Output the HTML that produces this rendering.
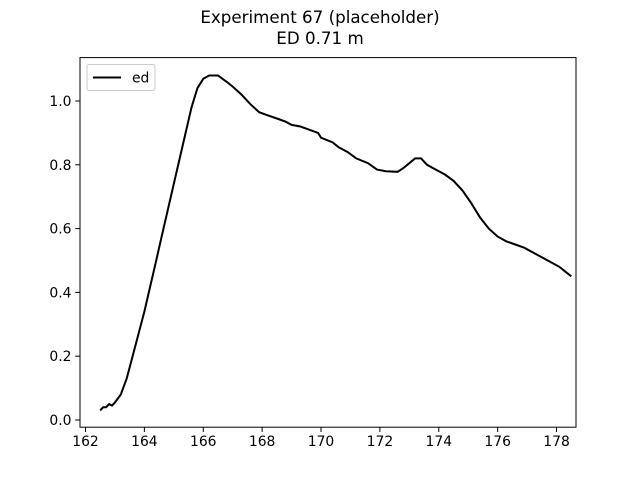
<!DOCTYPE html>
<html><head><meta charset="utf-8"><style>body{margin:0;background:#fff}svg{font-family:"DejaVu Sans","Liberation Sans",sans-serif}</style></head>
<body>
<svg id="chart" width="640" height="480" xmlns="http://www.w3.org/2000/svg">
<rect width="640" height="480" fill="#fff"/>
<text x="320" y="23" font-size="16.7" text-anchor="middle">Experiment 67 (placeholder)</text>
<text x="320" y="44" font-size="16.7" text-anchor="middle">ED 0.71 m</text>
<g id="ticks"></g>
<path id="line" fill="none" stroke="#000" stroke-width="2"/>
<rect x="80" y="57.6" width="496" height="369.6" fill="none" stroke="#000" stroke-width="1"/>
<g>
<rect x="87" y="64.5" width="68" height="26" rx="2" fill="#fff" stroke="#ccc"/>
<line x1="93" y1="77.5" x2="121" y2="77.5" stroke="#000" stroke-width="2"/>
<text x="132" y="82.5" font-size="13.9">ed</text>
</g>
</svg>
<script>
const xs=[162.5,162.6,162.7,162.8,162.9,163.0,163.2,163.4,163.6,163.8,164.0,164.2,164.4,164.6,164.8,165.0,165.2,165.4,165.6,165.8,166.0,166.2,166.5,166.8,167.0,167.3,167.6,167.9,168.2,168.5,168.8,169.0,169.3,169.6,169.9,170.0,170.4,170.6,170.9,171.2,171.6,171.9,172.2,172.6,172.8,173.0,173.2,173.4,173.6,173.9,174.2,174.5,174.8,175.1,175.4,175.7,176.0,176.3,176.6,176.9,177.2,177.5,177.8,178.1,178.3,178.5];
const ys=[0.03,0.04,0.04,0.05,0.045,0.055,0.08,0.13,0.2,0.27,0.34,0.42,0.5,0.58,0.66,0.74,0.82,0.9,0.98,1.04,1.07,1.08,1.08,1.06,1.045,1.02,0.99,0.965,0.955,0.945,0.935,0.925,0.92,0.91,0.9,0.885,0.87,0.855,0.84,0.82,0.805,0.785,0.78,0.778,0.79,0.805,0.82,0.82,0.8,0.785,0.77,0.75,0.72,0.68,0.635,0.6,0.575,0.56,0.55,0.54,0.525,0.51,0.495,0.48,0.465,0.45];
const xTicks=[162,164,166,168,170,172,174,176,178];
const yTicks=[0.0,0.2,0.4,0.6,0.8,1.0];
const X=v=>85.5+(v-162)*29.44;
const Y=v=>420-v*319;
const ns="http://www.w3.org/2000/svg";
const g=document.getElementById('ticks');
xTicks.forEach(t=>{
 const l=document.createElementNS(ns,'line');
 
 
 l.setAttribute('x1',X(t));l.setAttribute('x2',X(t));l.setAttribute('y1',427.2);l.setAttribute('y2',432);l.setAttribute('stroke','#000');l.setAttribute('stroke-width','1');g.appendChild(l);
 const tx=document.createElementNS(ns,'text');
 
 
 tx.setAttribute('x',X(t));tx.setAttribute('y',446);tx.setAttribute('font-size','13.9');tx.setAttribute('text-anchor','middle');tx.textContent=t;g.appendChild(tx);
});
yTicks.forEach(t=>{
 const l=document.createElementNS(ns,'line');
 
 
 l.setAttribute('x1',75.2);l.setAttribute('x2',80);l.setAttribute('y1',Y(t));l.setAttribute('y2',Y(t));l.setAttribute('stroke','#000');l.setAttribute('stroke-width','1');g.appendChild(l);
 const tx=document.createElementNS(ns,'text');
 
 
 tx.setAttribute('x',71.5);tx.setAttribute('y',Y(t)+5);tx.setAttribute('font-size','13.9');tx.setAttribute('text-anchor','end');tx.textContent=t.toFixed(1);g.appendChild(tx);
});
document.getElementById('line').setAttribute('d',xs.map((x,i)=>(i?'L':'M')+X(x).toFixed(1)+','+Y(ys[i]).toFixed(1)).join(''));
</script>
</body></html>
